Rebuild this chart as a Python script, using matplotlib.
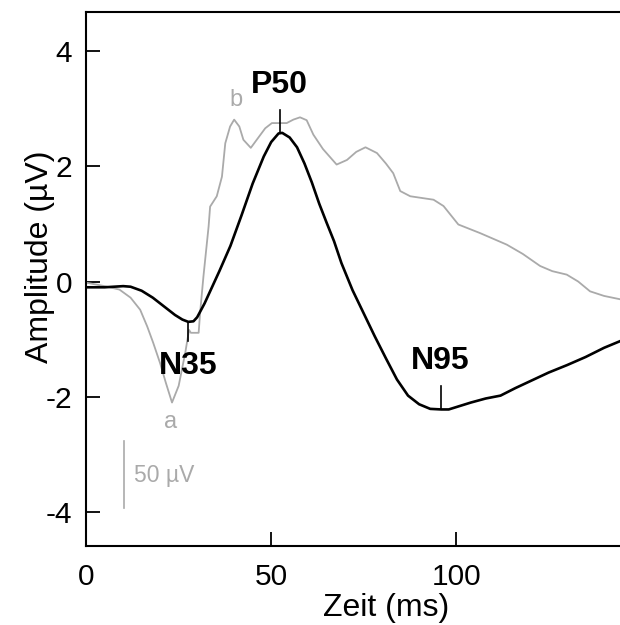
import numpy as np
import matplotlib
matplotlib.use('Agg')
import matplotlib.pyplot as plt

plt.rcParams['font.family'] = ['Liberation Sans', 'DejaVu Sans']
plt.rcParams['axes.unicode_minus'] = False

# black trace (averaged PERG), time in ms, amplitude in uV
t_black = [0, 5, 10, 12, 15, 18, 21, 24, 26, 27.6, 29, 30, 32, 34, 36, 39, 42, 45, 48, 50,
           52, 53, 55, 57, 59, 61, 63, 65, 67, 69, 72, 75, 78, 81, 84, 87, 90, 93, 96, 98,
           100, 104, 108, 112, 116, 120, 125, 130, 135, 140, 144.5]
v_black = [-0.10, -0.10, -0.08, -0.09, -0.16, -0.28, -0.43, -0.58, -0.66, -0.70, -0.69, -0.62, -0.38, -0.10, 0.18, 0.62, 1.15, 1.70, 2.17, 2.42,
           2.57, 2.58, 2.50, 2.33, 2.05, 1.72, 1.35, 1.02, 0.70, 0.32, -0.15, -0.55, -0.95, -1.33, -1.70, -1.98, -2.13, -2.21, -2.22, -2.22,
           -2.18, -2.10, -2.03, -1.98, -1.85, -1.73, -1.58, -1.45, -1.31, -1.15, -1.03]

# grey trace (single recording)
t_grey = [0, 5, 9, 12, 14.6, 16.5, 18.1, 20, 21.5, 23.2, 25, 26.8, 27.8, 28.3, 30.4, 30.8, 31.7, 33.1, 33.5, 35.3,
          36.7, 37.6, 38.9, 40.0, 41.4, 42.5, 44.5, 46.1, 48.4, 50.2, 54.2, 56, 57.8, 59.6, 61.4, 64, 67.7, 70.5, 73, 75.5,
          78.6, 81, 83, 84.9, 87.6, 93.9, 96.6, 100.6, 106.5, 113.7, 118, 122.7, 126, 129.9, 133, 136.2, 140, 144.5]
v_grey = [-0.02, -0.08, -0.14, -0.28, -0.49, -0.78, -1.06, -1.42, -1.75, -2.10, -1.81, -1.23, -0.84, -0.89, -0.89, -0.54, 0.09, 0.96, 1.30, 1.48,
          1.82, 2.40, 2.69, 2.81, 2.69, 2.46, 2.32, 2.46, 2.66, 2.75, 2.75, 2.81, 2.85, 2.80, 2.55, 2.30, 2.03, 2.11, 2.25, 2.33,
          2.23, 2.05, 1.88, 1.57, 1.48, 1.42, 1.31, 0.99, 0.84, 0.64, 0.48, 0.27, 0.18, 0.12, 0.0, -0.17, -0.25, -0.31]

# peak labels: name, latency, amplitude
peak_names = ['N35', 'P50', 'N95']
peak_t = [27.5, 52.3, 95.8]
peak_v = [-0.70, 2.58, -2.22]

fig = plt.figure(figsize=(6.2, 6.25), dpi=100)
ax = fig.add_axes([0.139, 0.1264, 0.861, 0.8546])

ax.plot(t_grey, v_grey, color='#aaaaaa', lw=1.3, zorder=2)
ax.plot(t_black, v_black, color='black', lw=1.9, zorder=3)

# peak markers and labels
ax.plot([peak_t[0], peak_t[0]], [peak_v[0], peak_v[0] - 0.33], color='black', lw=1.2)
ax.text(peak_t[0], peak_v[0] - 0.77, peak_names[0], ha='center', va='center',
        fontsize=23, fontweight='bold')
ax.plot([peak_t[1], peak_t[1]], [peak_v[1], peak_v[1] + 0.4], color='black', lw=1.2)
ax.text(peak_t[1], peak_v[1] + 0.83, peak_names[1], ha='center', va='center',
        fontsize=23, fontweight='bold')
ax.plot([peak_t[2], peak_t[2]], [peak_v[2], peak_v[2] + 0.41], color='black', lw=1.2)
ax.text(peak_t[2], peak_v[2] + 0.84, peak_names[2], ha='center', va='center',
        fontsize=23, fontweight='bold')

# grey letters for the single trace
ax.text(22.7, -2.44, 'a', color='#aaaaaa', fontsize=17, ha='center', va='center')
ax.text(40.5, 3.15, 'b', color='#aaaaaa', fontsize=17, ha='center', va='center')

# scale bar
ax.plot([10.3, 10.3], [-2.77, -3.93], color='#aaaaaa', lw=1.2)
ax.text(13.0, -3.37, '50 µV', color='#aaaaaa', fontsize=16.5, ha='left', va='center')

ax.set_xlim(0, 144.3)
ax.set_ylim(-4.59, 4.68)
ax.set_xticks([0, 50, 100])
ax.set_yticks([-4, -2, 0, 2, 4])
ax.tick_params(axis='both', direction='in', length=10, width=1.3, labelsize=21.5)
ax.tick_params(axis='y', pad=10)
ax.tick_params(axis='x', pad=12)
ax.spines['right'].set_visible(False)
for s in ['left', 'top', 'bottom']:
    ax.spines[s].set_linewidth(1.5)

# axis titles placed where the reference has them
fig.text(0.623, 0.027, 'Zeit (ms)', fontsize=23, ha='center', va='center')
fig.text(0.0645, 0.589, 'Amplitude (µV)', fontsize=23, ha='center', va='center',
         rotation=90)

fig.savefig('out.png', dpi=100)
